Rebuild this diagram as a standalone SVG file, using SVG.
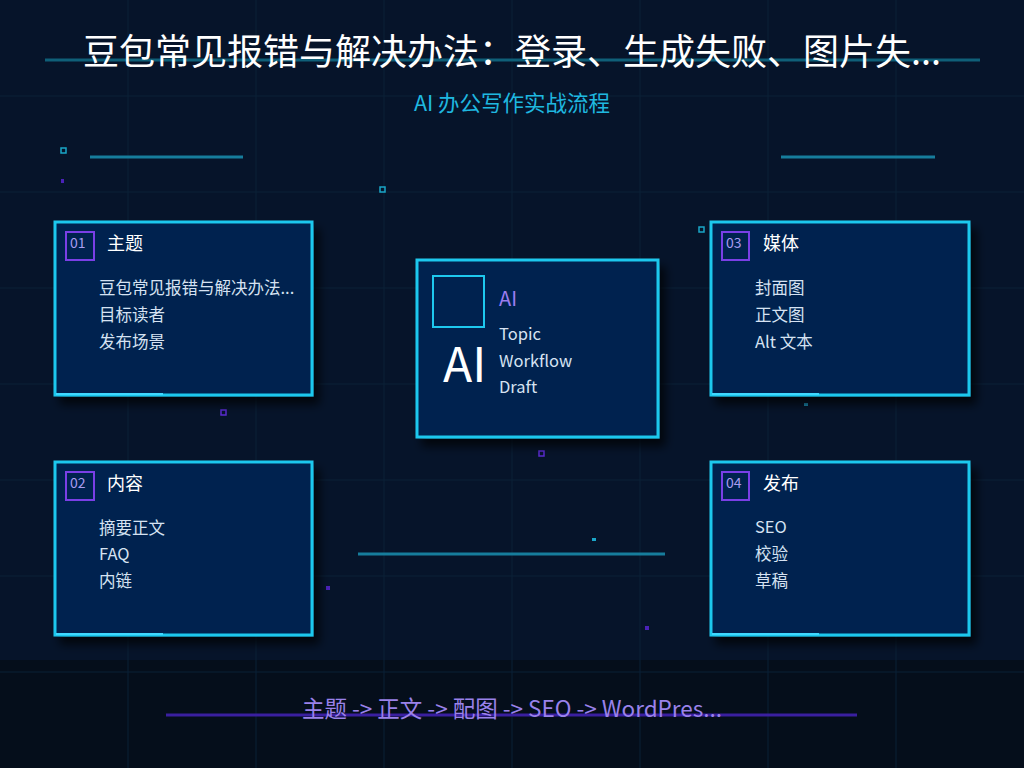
<svg xmlns="http://www.w3.org/2000/svg" width="1024" height="768" viewBox="0 0 1024 768">
<defs>
<style>
text{font-family:"Noto Sans CJK SC","Noto Sans",sans-serif;}
.grid{stroke:#0a2136;stroke-width:1;}
.card{fill:#02204f;stroke:#1ec8ee;stroke-width:3;}
.badge{fill:none;stroke:#7a3fe6;stroke-width:2;}
.num{fill:#a99cf0;font-size:14px;}
.ttl{fill:#ffffff;font-size:18px;}
.item{fill:#d6e2f2;font-size:16.5px;}
.deco{stroke:#167d9c;stroke-width:3;}
.sqc{fill:none;stroke:#1aa6c8;stroke-width:1.5;}
.sqp{fill:none;stroke:#5a2bd0;stroke-width:1.5;}
</style>
<filter id="sh" x="-10%" y="-10%" width="130%" height="130%">
<feDropShadow dx="6" dy="8" stdDeviation="5" flood-color="#000" flood-opacity="0.7"/>
</filter>
</defs>
<rect width="1024" height="768" fill="#06142a"/>
<rect y="660" width="1024" height="108" fill="#050e1b"/>
<g id="grid">
<line class="grid" x1="128" y1="0" x2="128" y2="768"/>
<line class="grid" x1="256" y1="0" x2="256" y2="768"/>
<line class="grid" x1="384" y1="0" x2="384" y2="768"/>
<line class="grid" x1="512" y1="0" x2="512" y2="768"/>
<line class="grid" x1="640" y1="0" x2="640" y2="768"/>
<line class="grid" x1="768" y1="0" x2="768" y2="768"/>
<line class="grid" x1="896" y1="0" x2="896" y2="768"/>
<line class="grid" x1="0" y1="96" x2="1024" y2="96"/>
<line class="grid" x1="0" y1="192" x2="1024" y2="192"/>
<line class="grid" x1="0" y1="288" x2="1024" y2="288"/>
<line class="grid" x1="0" y1="384" x2="1024" y2="384"/>
<line class="grid" x1="0" y1="480" x2="1024" y2="480"/>
<line class="grid" x1="0" y1="576" x2="1024" y2="576"/>
<line class="grid" x1="0" y1="672" x2="1024" y2="672"/>
</g>
<g id="decor">
<line x1="45" y1="60" x2="980" y2="60" stroke="#0f5f78" stroke-width="3"/>
<line class="deco" x1="90" y1="157" x2="243" y2="157"/>
<line class="deco" x1="781" y1="157" x2="935" y2="157"/>
<line class="deco" x1="358" y1="554" x2="665" y2="554"/>
<line x1="166" y1="715" x2="857" y2="715" stroke="#3a1fa0" stroke-width="3"/>
<rect class="sqc" x="61" y="148" width="5" height="5"/>
<rect x="61" y="179" width="3" height="4" fill="#4a22b8"/>
<rect class="sqc" x="380" y="187" width="5" height="5"/>
<rect class="sqc" x="699" y="227" width="5" height="5"/>
<rect class="sqp" x="221" y="410" width="5" height="5"/>
<rect class="sqp" x="539" y="451" width="5" height="5"/>
<rect x="592" y="538" width="4" height="3" fill="#1aa6c8"/>
<rect x="326" y="586" width="4" height="4" fill="#4a22b8"/>
<rect x="645" y="626" width="4" height="4" fill="#4a22b8"/>
<rect x="804" y="403" width="4" height="3" fill="#1a8ab0"/>
</g>
<text x="512" y="65" text-anchor="middle" fill="#ffffff" font-size="36">豆包常见报错与解决办法：登录、生成失败、图片失...</text>
<text x="512" y="111" text-anchor="middle" fill="#1fb8e0" font-size="21.5">AI 办公写作实战流程</text>
<g id="connectors"></g>
<g id="center">
<rect class="card" x="417" y="260" width="241" height="177" filter="url(#sh)"/>
<rect x="433" y="276" width="51" height="51" fill="none" stroke="#1ec8ee" stroke-width="2"/>
<text x="499" y="306" fill="#9b7cf0" font-size="20">AI</text>
<text x="499" y="340" class="item">Topic</text>
<text x="499" y="367" class="item">Workflow</text>
<text x="499" y="393" class="item">Draft</text>
<text x="443" y="382" fill="#ffffff" font-size="48">AI</text>
</g>
<g id="n01">
<rect class="card" x="55" y="222" width="257" height="173" filter="url(#sh)"/>
<line x1="56" y1="394" x2="163" y2="394" stroke="#3fd8ff" stroke-width="2"/>
<rect class="badge" x="66" y="232" width="28" height="28"/>
<text x="70" y="248" class="num">01</text>
<text x="107" y="250" class="ttl">主题</text>
<text x="99" y="294" class="item">豆包常见报错与解决办法...</text>
<text x="99" y="321" class="item">目标读者</text>
<text x="99" y="348" class="item">发布场景</text>
</g>
<g id="n02">
<rect class="card" x="55" y="462" width="257" height="173" filter="url(#sh)"/>
<line x1="56" y1="634" x2="163" y2="634" stroke="#3fd8ff" stroke-width="2"/>
<rect class="badge" x="66" y="472" width="28" height="28"/>
<text x="70" y="488" class="num">02</text>
<text x="107" y="490" class="ttl">内容</text>
<text x="99" y="534" class="item">摘要正文</text>
<text x="99" y="560" class="item">FAQ</text>
<text x="99" y="587" class="item">内链</text>
</g>
<g id="n03">
<rect class="card" x="711" y="222" width="258" height="173" filter="url(#sh)"/>
<line x1="712" y1="394" x2="819" y2="394" stroke="#3fd8ff" stroke-width="2"/>
<rect class="badge" x="722" y="232" width="27" height="28"/>
<text x="726" y="248" class="num">03</text>
<text x="763" y="250" class="ttl">媒体</text>
<text x="755" y="294" class="item">封面图</text>
<text x="755" y="321" class="item">正文图</text>
<text x="755" y="348" class="item">Alt 文本</text>
</g>
<g id="n04">
<rect class="card" x="711" y="462" width="258" height="173" filter="url(#sh)"/>
<line x1="712" y1="634" x2="819" y2="634" stroke="#3fd8ff" stroke-width="2"/>
<rect class="badge" x="722" y="472" width="27" height="28"/>
<text x="726" y="488" class="num">04</text>
<text x="763" y="490" class="ttl">发布</text>
<text x="755" y="533" class="item">SEO</text>
<text x="755" y="560" class="item">校验</text>
<text x="755" y="587" class="item">草稿</text>
</g>
<text x="512" y="717" text-anchor="middle" fill="#9a82ea" font-size="22.5">主题 -&gt; 正文 -&gt; 配图 -&gt; SEO -&gt; WordPres...</text>
</svg>
